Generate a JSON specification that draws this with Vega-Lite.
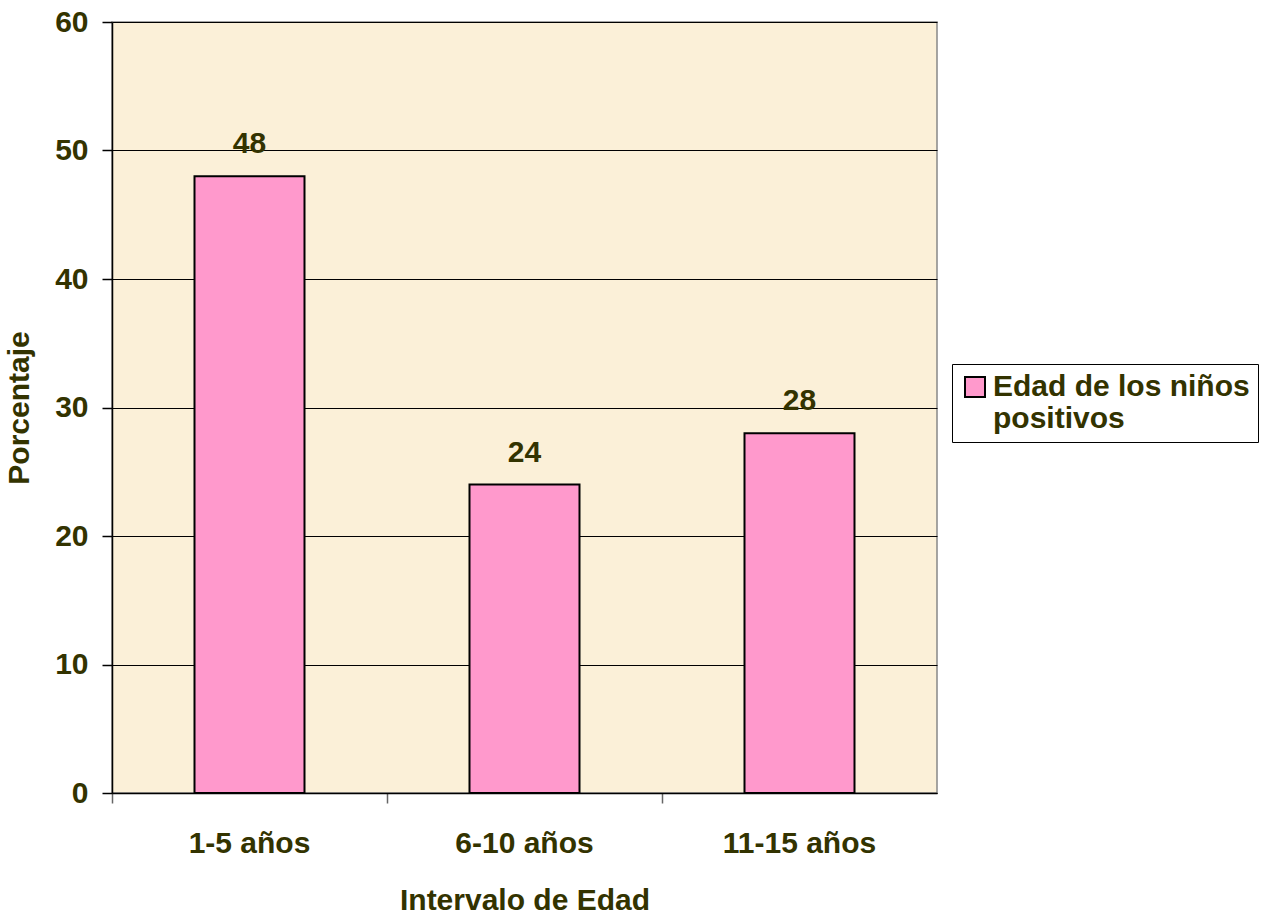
{
  "$schema": "https://vega.github.io/schema/vega-lite/v6.json",
  "width": 825,
  "height": 771,
  "autosize": {"type": "none"},
  "padding": {"left": 112, "top": 22, "right": 326, "bottom": 123},
  "background": "white",
  "config": {
    "font": "Liberation Sans",
    "view": {"fill": "#FBF0D8", "stroke": "#888888", "strokeWidth": 1.5}
  },
  "data": {
    "values": [
      {"intervalo": "1-5 años", "porcentaje": 48, "serie": "Edad de los niños positivos"},
      {"intervalo": "6-10 años", "porcentaje": 24, "serie": "Edad de los niños positivos"},
      {"intervalo": "11-15 años", "porcentaje": 28, "serie": "Edad de los niños positivos"}
    ]
  },
  "encoding": {
    "x": {
      "field": "intervalo",
      "type": "nominal",
      "sort": null,
      "scale": {"paddingInner": 0.6, "paddingOuter": 0.3},
      "axis": {
        "title": "Intervalo de Edad",
        "labelAngle": 0,
        "bandPosition": -0.75,
        "labelFont": "Liberation Sans",
        "labelFontSize": 30,
        "labelFontWeight": "bold",
        "labelColor": "#333300",
        "labelPadding": 25,
        "labelBaseline": "top",
        "titleFont": "Liberation Sans",
        "titleFontSize": 30,
        "titleFontWeight": "bold",
        "titleColor": "#333300",
        "titlePadding": 27,
        "domainColor": "#000000",
        "domainWidth": 1.5,
        "tickColor": "#666666",
        "tickSize": 10,
        "tickWidth": 1.5,
        "grid": false
      }
    },
    "y": {
      "field": "porcentaje",
      "type": "quantitative",
      "scale": {"domain": [0, 60]},
      "axis": {
        "title": "Porcentaje",
        "values": [0, 10, 20, 30, 40, 50, 60],
        "labelFont": "Liberation Sans",
        "labelFontSize": 30,
        "labelFontWeight": "bold",
        "labelColor": "#333300",
        "labelPadding": 14,
        "titleFont": "Liberation Sans",
        "titleFontSize": 30,
        "titleFontWeight": "bold",
        "titleColor": "#333300",
        "titlePadding": 20,
        "domainColor": "#000000",
        "domainWidth": 1.5,
        "tickColor": "#000000",
        "tickSize": 10,
        "tickWidth": 1.5,
        "grid": true,
        "gridColor": "#000000",
        "gridWidth": 1
      }
    }
  },
  "layer": [
    {
      "mark": {"type": "bar", "stroke": "#000000", "strokeWidth": 2},
      "encoding": {
        "fill": {
          "field": "serie",
          "type": "nominal",
          "scale": {"range": ["#FF99CC"]},
          "legend": {
            "title": null,
            "orient": "none",
            "legendX": 840,
            "legendY": 342,
            "symbolType": "square",
            "symbolSize": 400,
            "symbolStrokeColor": "#000000",
            "symbolStrokeWidth": 2,
            "symbolOpacity": 1,
            "labelFont": "Liberation Sans",
            "labelFontSize": 30,
            "labelFontWeight": "bold",
            "labelColor": "#333300",
            "labelExpr": "['Edad de los niños', 'positivos']",
            "labelLimit": 400,
            "labelOffset": 3,
            "strokeColor": "#000000",
            "fillColor": "#FFFFFF",
            "padding": 8
          }
        }
      }
    },
    {
      "mark": {
        "type": "text",
        "dy": -23,
        "baseline": "alphabetic",
        "font": "Liberation Sans",
        "fontSize": 30,
        "fontWeight": "bold",
        "color": "#333300"
      },
      "encoding": {"text": {"field": "porcentaje", "type": "quantitative"}}
    }
  ]
}
